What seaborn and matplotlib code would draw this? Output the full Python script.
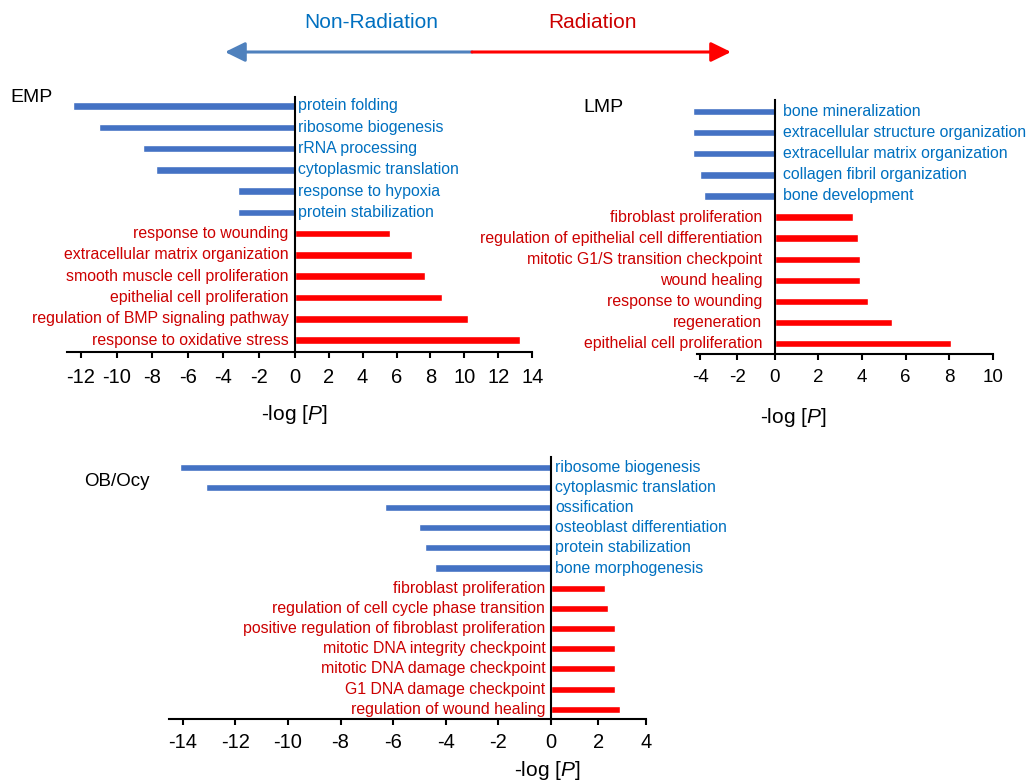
import numpy as np
import pandas as pd
import matplotlib
matplotlib.use("Agg")
import matplotlib.pyplot as plt
import matplotlib.transforms as mtransforms
import seaborn as sns

# ---------------- data ----------------
emp_terms = ["protein folding", "ribosome biogenesis", "rRNA processing", "cytoplasmic translation",
             "response to hypoxia", "protein stabilization",
             "response to wounding", "extracellular matrix organization",
             "smooth muscle cell proliferation", "epithelial cell proliferation",
             "regulation of BMP signaling pathway", "response to oxidative stress"]
emp_values = [-12.45, -11.0, -8.5, -7.8, -3.2, -3.2, 5.6, 6.9, 7.7, 8.7, 10.2, 13.3]
emp_ticks = [-12, -10, -8, -6, -4, -2, 0, 2, 4, 6, 8, 10, 12, 14]

lmp_terms = ["bone mineralization", "extracellular structure organization",
             "extracellular matrix organization", "collagen fibril organization", "bone development",
             "fibroblast proliferation", "regulation of epithelial cell differentiation",
             "mitotic G1/S transition checkpoint", "wound healing", "response to wounding",
             "regeneration", "epithelial cell proliferation"]
lmp_values = [-4.4, -4.4, -4.4, -4.0, -3.8, 3.6, 3.8, 3.9, 3.9, 4.3, 5.4, 8.1]
lmp_ticks = [-4, -2, 0, 2, 4, 6, 8, 10]

ob_terms = ["ribosome biogenesis", "cytoplasmic translation", "ossification",
            "osteoblast differentiation", "protein stabilization", "bone morphogenesis",
            "fibroblast proliferation", "regulation of cell cycle phase transition",
            "positive regulation of fibroblast proliferation", "mitotic DNA integrity checkpoint",
            "mitotic DNA damage checkpoint", "G1 DNA damage checkpoint", "regulation of wound healing"]
ob_values = [-14.1, -13.1, -6.3, -5.0, -4.8, -4.4, 2.3, 2.4, 2.7, 2.7, 2.7, 2.7, 2.9]
ob_ticks = [-14, -12, -10, -8, -6, -4, -2, 0, 2, 4]

panel_titles = ["EMP", "LMP", "OB/Ocy"]
side_labels = ["Non-Radiation", "Radiation"]
xlabel_text = r"-log [$\mathit{P}$]"

# ---------------- style ----------------
sns.set_style("white")
plt.rcParams["font.family"] = ["Liberation Sans", "DejaVu Sans"]
plt.rcParams["mathtext.fontset"] = "custom"
plt.rcParams["mathtext.rm"] = "Liberation Sans"
plt.rcParams["mathtext.it"] = "Liberation Sans:italic"
plt.rcParams["axes.unicode_minus"] = False

BAR_BLUE = "#4472C4"
BAR_RED = "#FF0000"
TXT_BLUE = "#0070C0"
TXT_RED = "#CC0000"
ARROW_BLUE = "#4F81BD"
LABEL_SIZE = 11.4

W, H = 1027, 784
fig = plt.figure(figsize=(W / 100, H / 100), dpi=100)


def make_scale(k):
    def fwd(x):
        x = np.asarray(x, dtype=float)
        return np.where(x < 0, x * k, x)

    def inv(y):
        y = np.asarray(y, dtype=float)
        return np.where(y < 0, y / k, y)
    return fwd, inv


def panel(rect_px, terms, values, ticks, k, xlim, ylim, spine_left, lab_off,
          xlab_x, xlab_dy, tick_size, tick_pad):
    l, r, t, b = rect_px
    ax = fig.add_axes([l / W, 1 - b / H, (r - l) / W, (b - t) / H])
    df = pd.DataFrame({"term": terms, "value": values})
    df["side"] = np.where(df["value"] < 0, side_labels[0], side_labels[1])
    sns.barplot(data=df, x="value", y="term", hue="side", order=terms,
                hue_order=side_labels, palette=[BAR_BLUE, BAR_RED], saturation=1,
                dodge=False, width=0.35, errorbar=None, legend=False, orient="h", ax=ax)
    ax.set_xscale("function", functions=make_scale(k))
    ax.set_xlim(xlim)
    ax.set_ylim(ylim)
    ax.set_xticks(ticks)
    ax.set_xticklabels([str(v) for v in ticks])
    ax.set_ylabel("")
    for s in ["top", "right"]:
        ax.spines[s].set_visible(False)
    ax.spines["left"].set_position(("data", 0))
    ax.spines["left"].set_color("black")
    ax.spines["left"].set_linewidth(1.5)
    ax.spines["bottom"].set_color("black")
    ax.spines["bottom"].set_linewidth(1.5)
    ax.spines["bottom"].set_bounds(spine_left, xlim[1])
    ax.tick_params(axis="x", bottom=True, direction="out", length=4, width=1.5,
                   labelsize=tick_size, pad=tick_pad, colors="black")
    ax.tick_params(axis="y", left=False, length=0, labelleft=False)
    for i, (term, v) in enumerate(zip(terms, values)):
        if v < 0:
            ax.annotate(term, xy=(0, i), xytext=(lab_off[0], 0), textcoords="offset points",
                        ha="left", va="center", color=TXT_BLUE, fontsize=LABEL_SIZE)
        else:
            ax.annotate(term, xy=(0, i), xytext=(lab_off[1], 0), textcoords="offset points",
                        ha="right", va="center", color=TXT_RED, fontsize=LABEL_SIZE)
    ax.set_xlabel(xlabel_text, fontsize=15, color="black")
    ax.xaxis.set_label_coords(xlab_x, xlab_dy,
                              transform=mtransforms.blended_transform_factory(ax.transData, ax.transAxes))
    ax.xaxis.label.set_va("center")
    return ax


# EMP
panel((66.7, 532.3, 97, 352), emp_terms, emp_values, emp_ticks, 1.05,
      (-12.8, 14), (11.56, -0.42), -12.8, (2, -4.5), 0, -62 / 255, 14.5, 7.5)
# LMP
panel((691.6, 992.7, 100, 353.5), lmp_terms, lmp_values, lmp_ticks, 0.857,
      (-4.45, 10), (11.47, -0.55), -4.14, (6, -9), 0.85, -63.5 / 253.5, 13.5, 7)
# OB/Ocy
panel((169.3, 645.7, 457, 719), ob_terms, ob_values, ob_ticks, 1.11,
      (-14.51, 4), (12.48, -0.5), -14.51, (3, -4), -0.15, -52 / 262, 14.5, 6)

# panel titles
fig.text(10 / W, 1 - 97 / H, panel_titles[0], ha="left", va="center", fontsize=14, color="black")
fig.text(583 / W, 1 - 108 / H, panel_titles[1], ha="left", va="center", fontsize=14, color="black")
fig.text(84 / W, 1 - 482 / H, panel_titles[2], ha="left", va="center", fontsize=13.5, color="black")

# header with direction arrows
fig.text(371 / W, 1 - 22 / H, side_labels[0], ha="center", va="center", fontsize=15, color=TXT_BLUE)
fig.text(593 / W, 1 - 22 / H, side_labels[1], ha="center", va="center", fontsize=15, color=TXT_RED)
ov = fig.add_axes([0, 0, 1, 1], zorder=-1)
ov.set_xlim(0, W)
ov.set_ylim(H, 0)
ov.axis("off")
ov.annotate("", xy=(225, 52), xytext=(472, 52),
            arrowprops=dict(arrowstyle="-|>,head_length=0.55,head_width=0.27", color=ARROW_BLUE,
                            lw=2.2, mutation_scale=22, shrinkA=0, shrinkB=0))
ov.annotate("", xy=(731, 52), xytext=(472, 52),
            arrowprops=dict(arrowstyle="-|>,head_length=0.55,head_width=0.27", color=BAR_RED,
                            lw=2.2, mutation_scale=22, shrinkA=0, shrinkB=0))

fig.savefig("out.png", dpi=100)
